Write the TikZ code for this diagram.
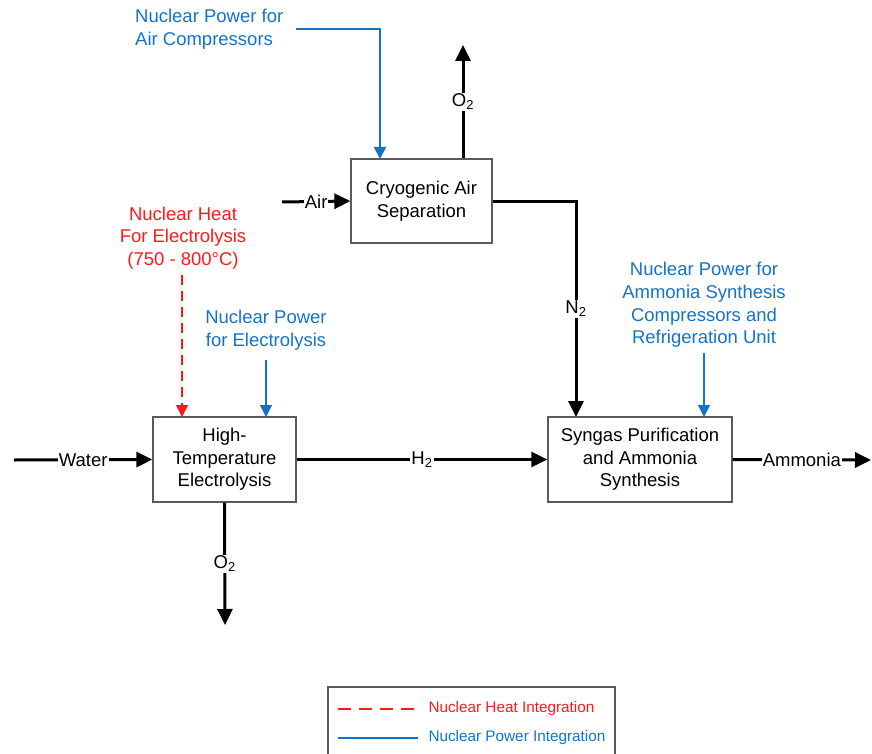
\documentclass[tikz,border=0pt]{standalone}
\usepackage{fontspec}
\setmainfont{Liberation Sans}
\usetikzlibrary{arrows.meta}
\definecolor{nred}{RGB}{255,25,25}
\definecolor{nblue}{RGB}{20,115,200}
\definecolor{boxgray}{RGB}{90,90,90}
\begin{document}
\begin{tikzpicture}[x=1pt,y=-1pt,
  mainfont/.style={font=\fontsize{18.5}{22.7}\selectfont},
  proc/.style={draw=boxgray, line width=1.3pt, fill=white, align=center, inner sep=0pt, mainfont},
  flow/.style={line width=3pt, black, -{Triangle[length=16pt,width=15pt]}},
  lab/.style={fill=white, inner sep=1pt, mainfont},
  pw/.style={draw=nblue, line width=1.5pt, -{Triangle[length=12pt,width=12pt]}},
  ht/.style={draw=nred, line width=1.5pt, dash pattern=on 10pt off 6pt, -{Triangle[length=12pt,width=12pt]}},
  bluetext/.style={text=nblue, mainfont},
  redtext/.style={text=nred, mainfont},
  legtext/.style={font=\fontsize{15.3}{18}\selectfont, anchor=west}]
\useasboundingbox (0,0) rectangle (872,754);

% process boxes
\node[proc, minimum width=141pt, minimum height=84pt] (cryo) at (421.5,201) {Cryogenic Air\\Separation};
\node[proc, minimum width=143pt, minimum height=85pt] (hte) at (224.5,459.5) {High-\\Temperature\\Electrolysis};
\node[proc, minimum width=184pt, minimum height=85pt] (syn) at (640,459.5) {Syngas Purification\\and Ammonia\\Synthesis};

% coordinates
\coordinate (win) at (14,460);
\coordinate (aout) at (871,460);
\coordinate (airin) at (282,202);
\coordinate (o2top) at (463,45);
\coordinate (o2bot) at (225,625);
\coordinate (n2in) at (576,417);

% black flows
\draw[flow] (win) -- node[lab] {Water} (hte.west);
\draw[flow] (hte.east) -- node[lab] {H\textsubscript{2}} (syn.west);
\draw[flow] (syn.east) -- node[lab] {Ammonia} (aout);
\draw[flow] (airin) -- node[lab] {Air} (cryo.west);
\draw[flow] (o2top |- cryo.north) -- node[lab] {O\textsubscript{2}} (o2top);
\draw[flow] (cryo.east) -| node[lab, pos=0.75] {N\textsubscript{2}} (n2in);
\draw[flow] (hte.south) -- node[lab] {O\textsubscript{2}} (o2bot);

% nuclear power for air compressors
\node[bluetext, anchor=west, align=left, inner sep=0pt] (npac) at (135,29) {Nuclear Power for\\Air Compressors};
\coordinate (pacstart) at (296,29);
\coordinate (pacend) at (380,159);
\draw[pw] (pacstart) -| (pacend);

% nuclear heat for electrolysis
\node[redtext, align=center, inner sep=0pt] (nhe) at (183,238) {Nuclear Heat\\For Electrolysis\\(750 - 800°C)};
\coordinate (nhestart) at (182,275);
\coordinate (nheend) at (182,417);
\draw[ht] (nhestart) -- (nheend);

% nuclear power for electrolysis
\node[bluetext, align=center, inner sep=0pt] (npe) at (266,330) {Nuclear Power\\for Electrolysis};
\coordinate (npestart) at (266,360);
\coordinate (npeend) at (266,417);
\draw[pw] (npestart) -- (npeend);

% nuclear power for ammonia synthesis
\node[bluetext, align=center, inner sep=0pt] (npa) at (704,305) {Nuclear Power for\\Ammonia Synthesis\\Compressors and\\Refrigeration Unit};
\coordinate (npastart) at (704,353);
\coordinate (npaend) at (704,417);
\draw[pw] (npastart) -- (npaend);

% legend
\draw[boxgray, line width=1.2pt] (328,760) -- (328,687) -- (615,687) -- (615,760);
\coordinate (l1a) at (338,709);
\coordinate (l1b) at (418,709);
\coordinate (l2a) at (338,738);
\coordinate (l2b) at (418,738);
\draw[nred, line width=2pt, dash pattern=on 13pt off 8pt] (l1a) -- (l1b);
\draw[nblue, line width=2pt] (l2a) -- (l2b);
\node[legtext, text=nred] (leg1) at (425,709) {Nuclear Heat Integration};
\node[legtext, text=nblue] (leg2) at (425,738) {Nuclear Power Integration};
\end{tikzpicture}
\end{document}
